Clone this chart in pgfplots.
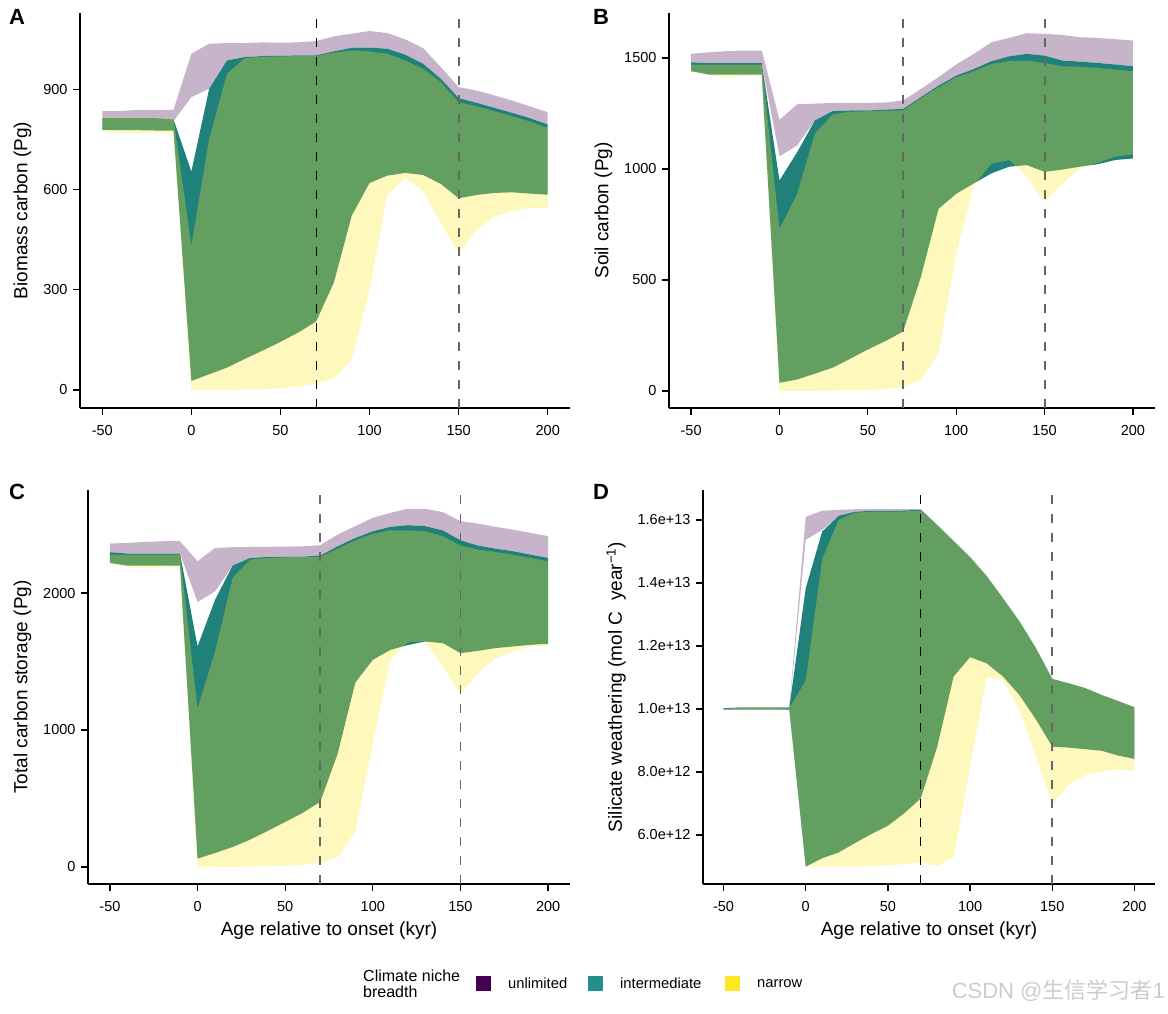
\documentclass[border=0pt]{standalone}
\usepackage{pgfplots}
\pgfplotsset{compat=1.18}
\usepackage{pgfplotstable}
\usepgfplotslibrary{fillbetween}
\usepackage{fontspec}
\setmainfont{Liberation Sans}
\newfontfamily\cjk{Noto Sans CJK SC}

\definecolor{cU}{RGB}{199,180,203}
\definecolor{cI}{RGB}{32,128,122}
\definecolor{cN}{RGB}{253,231,37}
\definecolor{legU}{RGB}{68,1,84}
\definecolor{legI}{RGB}{33,144,140}
\definecolor{legN}{RGB}{253,231,37}

\pgfplotstableread{
x ulo uhi ilo ihi nlo nhi
-50 812 835 779 814 775 817
-40 812 835 778 814 769 816
-30 812 839 778 814 770 816
-20 812 839 777 814 770 816
-10 805 839 777 810 769 812
0 877 1007 27 654 0 432
10 902 1037 47 902 0 752
20 987 1039 67 987 0 947
30 997 1039 93 997 1 994
40 1000 1041 118 1000 2 998
50 1001 1040 144 1001 5 999
60 1002 1041 172 1002 10 1000
70 1002 1045 205 1002 20 1000
80 1014 1059 322 1014 35 1010
90 1025 1067 522 1025 90 1017
100 1025 1075 620 1025 300 1014
110 1022 1069 642 1022 585 1007
120 1004 1050 650 1004 635 987
130 977 1024 644 977 595 962
140 932 967 617 932 500 922
150 874 907 574 874 410 862
160 860 897 584 860 478 850
170 845 882 590 845 520 835
180 830 867 592 830 535 820
190 814 849 588 814 545 804
200 795 832 585 795 545 785
}\tabA

\pgfplotstableread{
x ulo uhi ilo ihi nlo nhi
-50 1480 1518 1440 1480 1438 1470
-40 1476 1525 1425 1476 1425 1470
-30 1476 1530 1425 1476 1410 1470
-20 1476 1533 1425 1476 1420 1470
-10 1476 1533 1425 1476 1420 1470
0 1057 1221 37 948 0 730
10 1105 1291 52 1075 0 888
20 1218 1294 78 1218 1 1158
30 1260 1297 105 1260 2 1245
40 1263 1297 145 1263 3 1258
50 1263 1297 187 1263 5 1260
60 1267 1299 225 1267 8 1262
70 1270 1308 268 1270 18 1264
80 1323 1360 513 1323 48 1318
90 1375 1413 820 1375 171 1368
100 1420 1470 888 1420 618 1413
110 1450 1518 935 1450 925 1440
120 1485 1570 980 1485 1024 1473
130 1507 1590 1010 1507 1040 1485
140 1518 1611 1017 1518 964 1488
150 1510 1608 987 1510 852 1477
160 1488 1603 997 1488 934 1462
170 1483 1593 1010 1483 1002 1460
180 1477 1590 1021 1477 1028 1455
190 1470 1584 1040 1470 1055 1447
200 1462 1578 1047 1462 1065 1440
}\tabB

\pgfplotstableread{
x ulo uhi ilo ihi nlo nhi
-50 2298 2361 2220 2298 2212 2280
-40 2288 2366 2200 2288 2190 2280
-30 2288 2373 2200 2288 2178 2280
-20 2288 2378 2200 2288 2190 2280
-10 2288 2378 2200 2288 2190 2280
0 1934 2232 61 1610 0 1158
10 2012 2329 102 1951 0 1573
20 2200 2334 146 2200 1 2110
30 2256 2337 200 2256 3 2244
40 2263 2337 263 2263 5 2256
50 2263 2339 329 2263 10 2261
60 2266 2341 395 2266 18 2263
70 2273 2349 476 2273 29 2265
80 2341 2427 829 2341 73 2324
90 2402 2488 1346 2402 256 2385
100 2451 2549 1512 2451 902 2432
110 2483 2585 1585 2483 1512 2458
120 2495 2615 1620 2495 1640 2458
130 2488 2615 1646 2488 1646 2451
140 2456 2590 1634 2456 1463 2415
150 2385 2524 1561 2385 1263 2346
160 2346 2507 1578 2346 1414 2317
170 2324 2483 1598 2324 1524 2300
180 2305 2463 1610 2305 1573 2280
190 2280 2439 1622 2280 1610 2256
200 2256 2415 1629 2256 1615 2232
}\tabC

\pgfplotstableread{
x ulo uhi ilo ihi nlo nhi
-50 9.99 10.02 9.98 10.02 9.98 10.01
-40 10.00 10.05 9.98 10.04 9.98 10.03
-30 10.00 10.05 9.98 10.04 9.98 10.03
-20 10.00 10.05 9.98 10.04 9.98 10.03
-10 10.00 10.05 9.97 10.04 9.97 10.02
0 15.37 16.10 4.99 13.83 4.99 10.90
10 15.68 16.29 5.26 15.63 4.99 14.75
20 16.13 16.32 5.44 16.13 4.99 16.00
30 16.26 16.34 5.74 16.26 4.99 16.23
40 16.29 16.34 6.03 16.29 5.00 16.26
50 16.29 16.34 6.29 16.29 5.03 16.26
60 16.30 16.34 6.69 16.30 5.07 16.27
70 16.32 16.34 7.16 16.32 5.12 16.30
80 15.83 15.85 8.80 15.83 5.02 15.83
90 15.32 15.34 11.03 15.32 5.29 15.32
100 14.81 14.83 11.64 14.81 8.15 14.81
110 14.22 14.23 11.45 14.22 11.00 14.22
120 13.51 13.51 11.03 13.51 10.92 13.51
130 12.78 12.78 10.44 12.78 9.97 12.78
140 11.93 11.93 9.67 11.93 8.49 11.93
150 10.95 10.95 8.80 10.95 6.98 10.95
160 10.81 10.81 8.77 10.81 7.59 10.81
170 10.66 10.66 8.72 10.66 7.90 10.66
180 10.44 10.44 8.67 10.44 8.01 10.44
190 10.25 10.25 8.52 10.25 8.08 10.25
200 10.05 10.05 8.41 10.05 8.04 10.05
}\tabD

\newcommand{\ribbons}[2]{%
  \addplot[draw=none, forget plot, name path=#2uhi] table[x=x,y=uhi]{#1};
  \addplot[draw=none, forget plot, name path=#2ulo] table[x=x,y=ulo]{#1};
  \addplot[draw=none, forget plot, name path=#2ihi] table[x=x,y=ihi]{#1};
  \addplot[draw=none, forget plot, name path=#2ilo] table[x=x,y=ilo]{#1};
  \addplot[draw=none, forget plot, name path=#2nhi] table[x=x,y=nhi]{#1};
  \addplot[draw=none, forget plot, name path=#2nlo] table[x=x,y=nlo]{#1};
  \addplot[fill=cU, draw=none, forget plot] fill between[of=#2uhi and #2ulo];
  \addplot[fill=cI, draw=none, forget plot] fill between[of=#2ihi and #2ilo];
  \addplot[fill=cN, fill opacity=0.3, draw=none, forget plot] fill between[of=#2nhi and #2nlo];
}

\pgfplotsset{
  panel/.style={
    scale only axis,
    anchor=south west,
    axis x line*=bottom,
    axis y line*=left,
    axis line style={-, line width=1.6pt, black},
    tick align=outside,
    major tick length=7pt,
    tick style={line width=1.3pt, black},
    xmin=-62.5, xmax=212.5,
    xtick={-50,0,50,100,150,200},
    ticklabel style={font=\fontsize{14.5}{17}\selectfont, text=black},
    xticklabel style={yshift=-7pt},
    yticklabel style={xshift=-2pt},
    label style={font=\fontsize{19}{22}\selectfont},
    ylabel shift=5pt,
    xlabel shift=3pt,
    /pgf/number format/assume math mode=true,
    /pgf/number format/set thousands separator={},
    scaled y ticks=false,
    no markers,
  },
  vthin/.style={dash pattern=on 9pt off 10pt, line width=1.1pt, black, forget plot},
  vthick/.style={dash pattern=on 9pt off 10pt, line width=1.9pt, black!60, forget plot},
}

\begin{document}
\begin{tikzpicture}[x=1pt,y=1pt]
\path (0,0) rectangle (1168,1014);

% Panel A
\begin{axis}[panel, at={(80pt,606pt)}, width=490pt, height=395pt,
  ymin=-54, ymax=1129, ytick={0,300,600,900},
  ylabel={Biomass carbon (Pg)}]
\ribbons{\tabA}{A}
\addplot[vthin] coordinates {(70,-54) (70,1129)};
\addplot[vthick] coordinates {(150,-54) (150,1129)};
\end{axis}

% Panel B
\begin{axis}[panel, at={(669pt,606pt)}, width=486pt, height=395pt,
  ymin=-76.5, ymax=1702, ytick={0,500,1000,1500},
  ylabel={Soil carbon (Pg)}]
\ribbons{\tabB}{B}
\addplot[vthick] coordinates {(70,-76.5) (70,1702)};
\addplot[vthick] coordinates {(150,-76.5) (150,1702)};
\end{axis}

% Panel C
\begin{axis}[panel, at={(88pt,130pt)}, width=482pt, height=394pt,
  ymin=-124, ymax=2752, ytick={0,1000,2000},
  ylabel={Total carbon storage (Pg)},
  xlabel={Age relative to onset (kyr)}]
\ribbons{\tabC}{C}
\addplot[vthick] coordinates {(70,-124) (70,2752)};
\addplot[vthick] coordinates {(150,-124) (150,2752)};
\end{axis}

% Panel D
\begin{axis}[panel, at={(703pt,130pt)}, width=452pt, height=394pt,
  ymin=4.44, ymax=16.95, ytick={6,8,10,12,14,16},
  yticklabels={6.0e+12,8.0e+12,1.0e+13,1.2e+13,1.4e+13,1.6e+13},
  ylabel={Silicate weathering (mol C\ \ year\textsuperscript{−1})},
  xlabel={Age relative to onset (kyr)}]
\ribbons{\tabD}{D}
\addplot[vthin] coordinates {(70,4.44) (70,16.95)};
\addplot[vthick] coordinates {(150,4.44) (150,16.95)};
\end{axis}

% panel letters
\node[font=\fontsize{22}{24}\selectfont\bfseries] at (17,997) {A};
\node[font=\fontsize{22}{24}\selectfont\bfseries] at (601,997) {B};
\node[font=\fontsize{22}{24}\selectfont\bfseries] at (17,522) {C};
\node[font=\fontsize{22}{24}\selectfont\bfseries] at (601,522) {D};

% legend
\node[anchor=west, align=left, font=\fontsize{16}{16.5}\selectfont, inner sep=0pt] at (363,30) {Climate niche\\breadth};
\fill[legU] (476,23) rectangle (491,38);
\node[anchor=west, font=\fontsize{14.75}{17}\selectfont, inner sep=0pt] at (508,30.5) {unlimited};
\fill[legI] (588,23) rectangle (603,38);
\node[anchor=west, font=\fontsize{14.75}{17}\selectfont, inner sep=0pt] at (620,30.5) {intermediate};
\fill[legN] (725,23) rectangle (740,38);
\node[anchor=west, font=\fontsize{14.75}{17}\selectfont, inner sep=0pt] at (757,30.5) {narrow};

% watermark
\node[anchor=east, text=black!20, font=\fontsize{22}{24}\selectfont, inner sep=0pt] at (1165,23) {CSDN @{\cjk 生信学习者}1};
\end{tikzpicture}
\end{document}
